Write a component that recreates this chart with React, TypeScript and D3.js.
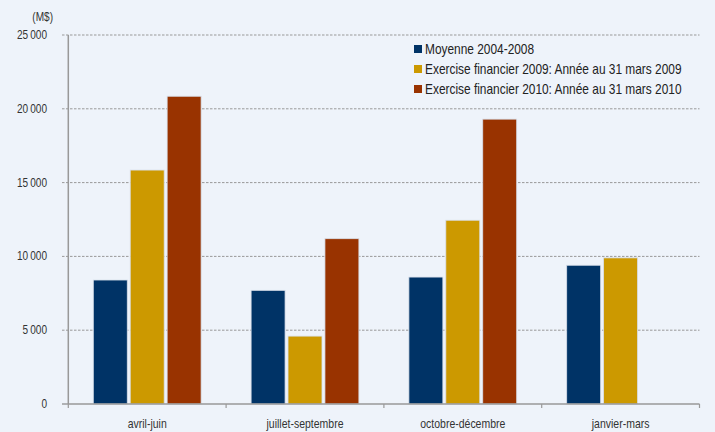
import React, { useEffect } from "react";
import * as d3 from "d3";

const categories = ["avril-juin", "juillet-septembre", "octobre-décembre", "janvier-mars"];
const seriesNames = [
  "Moyenne 2004-2008",
  "Exercise financier 2009: Année au 31 mars 2009",
  "Exercise financier 2010: Année au 31 mars 2010",
];
const moyenne = [8400, 7700, 8600, 9400];
const fy2009 = [15850, 4600, 12450, 9900];
const fy2010 = [20850, 11200, 19300, null as number | null];
const yTicks = [0, 5000, 10000, 15000, 20000, 25000];
const colors = ["#003366", "#CC9900", "#993300"];

const W = 715;
const H = 432;
const FONT = "'Liberation Sans', Arial, sans-serif";
const SX = 0.84;

function CText({ x, y, anchor, size, fill, children, sx = SX }: any) {
  return (
    <text
      transform={`translate(${x},${y}) scale(${sx},1)`}
      textAnchor={anchor}
      fontFamily={FONT}
      fontSize={size}
      fill={fill}
    >
      {children}
    </text>
  );
}

export default function App() {
  useEffect(() => {
    document.body.style.margin = "0";
  }, []);
  const series = [moyenne, fy2009, fy2010];
  const x0 = d3.scaleBand<string>().domain(categories).range([68.3, 699.5]).paddingInner(0).paddingOuter(0);
  const y = d3.scaleLinear().domain([0, 25000]).range([404, 35]);
  const bw = x0.bandwidth();
  const x1 = d3.scaleBand<number>().domain([0, 1, 2]).range([25, bw - 25]).paddingInner(0.08).paddingOuter(0);
  const fmt = (v: number) => (v >= 1000 ? d3.format(",")(v).replace(",", "\u2009") : String(v));

  return (
    <div style={{ position: "absolute", left: 0, top: 0 }}>
      <svg width={W} height={H} style={{ display: "block" }}>
        <rect x={0} y={0} width={W} height={H} fill="#EEF3FA" />
        {yTicks.map((t) => (
          <g key={t}>
            {t > 0 && (
              <line x1={62} x2={699.5} y1={y(t)} y2={y(t)} stroke="#999" strokeWidth={1} strokeDasharray="2.5,1.5" />
            )}
            {t === 0 && <line x1={62} x2={68} y1={y(t)} y2={y(t)} stroke="#888" strokeWidth={1.2} />}
            <CText x={47} y={y(t) + 4} anchor="end" size={12} fill="#333">
              {fmt(t)}
            </CText>
          </g>
        ))}
        <CText x={53} y={21} anchor="end" size={12} fill="#333">
          (M$)
        </CText>
        {series.map((vals, si) =>
          categories.map((c, ci) => {
            const v = vals[ci];
            if (v == null) return null;
            return (
              <rect
                key={si + "-" + ci}
                x={(x0(c) as number) + (x1(si) as number)}
                y={y(v)}
                width={x1.bandwidth()}
                height={y(0) - y(v)}
                fill={colors[si]}
                stroke="#D8DFEA"
                strokeWidth={0.8}
              />
            );
          })
        )}
        <line x1={68.3} x2={68.3} y1={35} y2={404} stroke="#999" strokeWidth={1.5} />
        <line x1={68.3} x2={699.5} y1={404} y2={404} stroke="#999" strokeWidth={1.5} />
        {[...categories.map((c) => x0(c) as number), 699.5].map((xv, i) => (
          <line key={i} x1={xv} x2={xv} y1={404} y2={408} stroke="#999" strokeWidth={1.2} />
        ))}
        {categories.map((c) => (
          <CText key={c} x={(x0(c) as number) + bw / 2} y={428} anchor="middle" size={12.5} fill="#333">
            {c}
          </CText>
        ))}
        <g>
          {seriesNames.map((n, i) => (
            <g key={n} transform={`translate(414, ${49 + i * 20})`}>
              <rect x={0} y={-4} width={8} height={8} fill={colors[i]} />
              <CText x={11} y={5} anchor="start" size={14} fill="#222" sx={0.85}>
                {n}
              </CText>
            </g>
          ))}
        </g>
      </svg>
    </div>
  );
}
